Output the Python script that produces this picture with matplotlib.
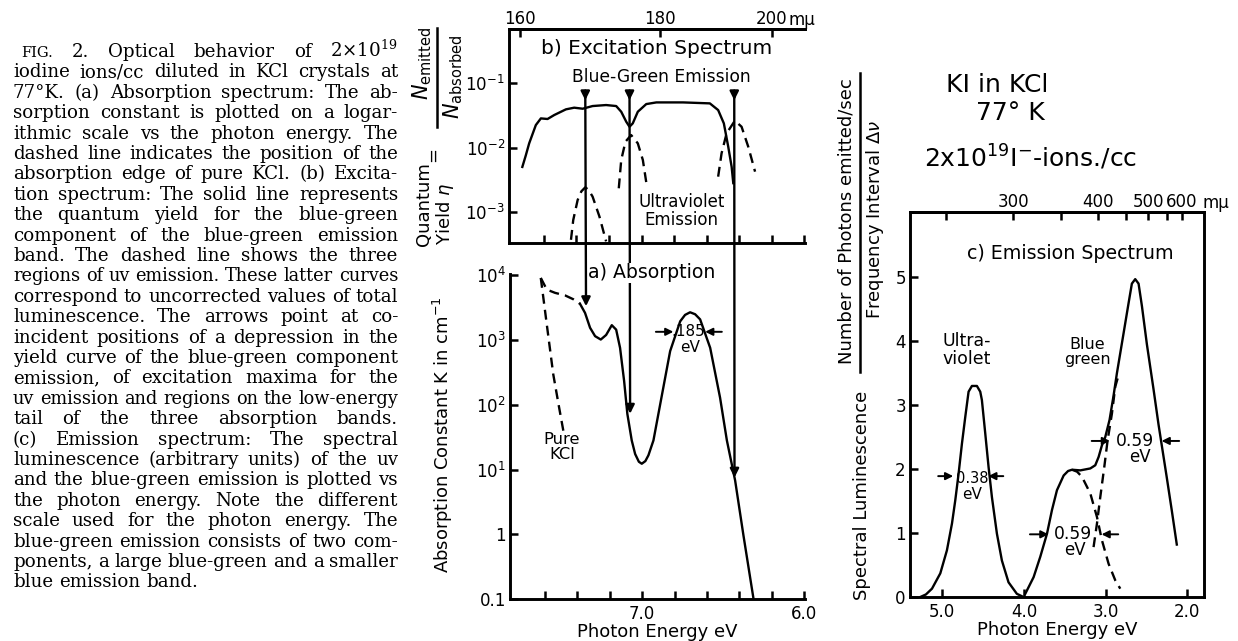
import numpy as np
import matplotlib.pyplot as plt
from matplotlib.patches import ConnectionPatch

plt.rcParams['font.family'] = 'DejaVu Sans'
plt.rcParams['mathtext.fontset'] = 'dejavusans'

W, H = 1238, 641  # taille de l'image en pixels


def fx(x):
    return x / W  # pixel -> fraction de figure (horizontal)


def fy(y):
    return 1 - y / H  # pixel (depuis le haut) -> fraction de figure


def ev2nm(x):
    x = np.asarray(x, dtype=float)
    with np.errstate(divide='ignore'):
        return 1239.8 / x  # eV <-> nm (m mu)


# ---------------- Données ----------------
# b) rendement quantique de la composante bleu-vert (trait plein)
E_bg = [7.733, 7.712, 7.691, 7.650, 7.619, 7.578, 7.537, 7.465, 7.414, 7.362, 7.301, 7.218, 7.156,
        7.125, 7.094, 7.074, 7.054, 7.023, 6.971, 6.909, 6.745, 6.580, 6.529, 6.494, 6.467, 6.446, 6.436]
eta_bg = [5.0e-3, 7.5e-3, 1.16e-2, 2.23e-2, 2.83e-2, 2.77e-2, 3.19e-2, 3.91e-2, 4.15e-2, 4.0e-2, 4.4e-2,
          4.56e-2, 4.4e-2, 3.59e-2, 2.51e-2, 2.1e-2, 2.37e-2, 3.59e-2, 4.72e-2, 5.01e-2, 5.01e-2, 4.84e-2,
          3.81e-2, 2.37e-2, 1.03e-2, 5.0e-3, 2.8e-3]

# b) émission UV (tirets), trois régions
E_uv1 = [7.434, 7.420, 7.393, 7.370, 7.346, 7.325, 7.301, 7.259, 7.218]
eta_uv1 = [3.7e-4, 7.5e-4, 1.53e-3, 2.09e-3, 2.41e-3, 2.19e-3, 1.73e-3, 8.5e-4, 3.5e-4]
E_uv2 = [7.140, 7.125, 7.099, 7.064, 7.023, 6.992, 6.967]
eta_uv2 = [2.33e-3, 6.4e-3, 1.23e-2, 1.56e-2, 1.16e-2, 6.4e-3, 2.47e-3]
E_uv3 = [6.529, 6.508, 6.477, 6.426, 6.385, 6.344, 6.302]
eta_uv3 = [3.53e-3, 8.13e-3, 1.66e-2, 2.61e-2, 2.1e-2, 1.03e-2, 4.22e-3]

# a) absorption (partie en tirets puis trait plein) et bord de KCl pur
E_abs_dash = [7.625, 7.588, 7.537, 7.475, 7.424, 7.383]
K_abs_dash = [9120, 6030, 5370, 4900, 4270, 3630]
E_abs = [7.383, 7.352, 7.321, 7.290, 7.255, 7.222, 7.187, 7.160, 7.136, 7.111, 7.091, 7.064, 7.043,
         7.020, 7.002, 6.980, 6.961, 6.930, 6.889, 6.827, 6.765, 6.735, 6.704, 6.673, 6.642, 6.580,
         6.519, 6.477, 6.426, 6.375, 6.313]
K_abs = [3630, 2630, 1550, 1150, 1020, 1200, 1700, 1450, 760, 234, 72.4, 28.2, 17.4,
         13.2, 12.3, 13.5, 16.6, 28.2, 100, 676, 1950, 2450, 2690, 2510, 2090, 760,
         129, 28.2, 6.76, 0.97, 0.102]
E_kcl = [7.625, 7.588, 7.548, 7.515, 7.486]
K_kcl = [9120, 1740, 295, 100, 39.8]

# flèches verticales (b) -> (a)
E_arrows = [7.346, 7.074, 6.430]
K_tips = [3340, 72.8, 7.5]

# c) spectre d'émission
E_uv = [5.269, 5.200, 5.126, 5.024, 4.943, 4.881, 4.841, 4.800, 4.759, 4.718, 4.678, 4.637,
        4.576, 4.535, 4.515, 4.474, 4.433, 4.392, 4.331, 4.270, 4.189, 4.087, 4.006]
L_uv = [0.0, 0.04, 0.13, 0.37, 0.73, 1.15, 1.51, 1.93, 2.40, 2.82, 3.21, 3.30,
        3.30, 3.21, 3.08, 2.56, 2.03, 1.56, 0.99, 0.57, 0.23, 0.05, 0.0]
E_bgc = [3.984, 3.882, 3.800, 3.718, 3.657, 3.596, 3.514, 3.460, 3.412, 3.310, 3.188, 3.127,
         3.086, 3.046, 3.005, 2.952, 2.903, 2.862, 2.781, 2.720, 2.679, 2.638, 2.597, 2.556,
         2.495, 2.414, 2.353, 2.253, 2.190, 2.129]
L_bgc = [0.05, 0.31, 0.63, 0.99, 1.36, 1.67, 1.90, 1.97, 1.99, 1.98, 2.01, 2.06,
         2.19, 2.37, 2.50, 2.77, 3.15, 3.50, 4.12, 4.59, 4.90, 4.97, 4.90, 4.55,
         3.95, 3.25, 2.70, 1.88, 1.35, 0.82]
E_blue_d = [3.412, 3.350, 3.290, 3.188, 3.106, 3.046, 2.964, 2.882, 2.821]
L_blue_d = [1.99, 1.96, 1.88, 1.62, 1.25, 0.89, 0.52, 0.26, 0.13]
E_green_d = [3.148, 3.106, 3.066, 3.017, 2.976, 2.923, 2.882, 2.842]
L_green_d = [0.78, 1.15, 1.56, 2.03, 2.45, 2.87, 3.29, 3.47]

# graduations
E_ticks = [7.6, 7.4, 7.2, 7.0, 6.8, 6.6, 6.4, 6.2, 6.0]
E_labels = ['', '', '', '7.0', '', '', '', '', '6.0']
K_ticks = [0.1, 1, 10, 100, 1000, 10000]
K_labels = ['0.1', '1', r'$10^1$', r'$10^2$', r'$10^3$', r'$10^4$']
eta_ticks = [1e-3, 1e-2, 1e-1]
eta_labels = [r'$10^{-3}$', r'$10^{-2}$', r'$10^{-1}$']
nm_ticks_b = [160, 180, 200]
Ec_ticks = [5.0, 4.0, 3.0, 2.0]
Ec_labels = ['5.0', '4.0', '3.0', '2.0']
L_ticks = [0, 1, 2, 3, 4, 5]
nm_ticks_c = [300, 400, 500, 600]
nm_minor_c = [250, 350, 450, 550]

caption = [
    "FIG. 2. Optical behavior of 2$\\times$10$^{19}$",
    "iodine ions/cc diluted in KCl crystals at",
    "77°K. (a) Absorption spectrum: The ab-",
    "sorption constant is plotted on a logar-",
    "ithmic scale vs the photon energy. The",
    "dashed line indicates the position of the",
    "absorption edge of pure KCl. (b) Excita-",
    "tion spectrum: The solid line represents",
    "the quantum yield for the blue-green",
    "component of the blue-green emission",
    "band. The dashed line shows the three",
    "regions of uv emission. These latter curves",
    "correspond to uncorrected values of total",
    "luminescence. The arrows point at co-",
    "incident positions of a depression in the",
    "yield curve of the blue-green component",
    "emission, of excitation maxima for the",
    "uv emission and regions on the low-energy",
    "tail of the three absorption bands.",
    "(c) Emission spectrum: The spectral",
    "luminescence (arbitrary units) of the uv",
    "and the blue-green emission is plotted vs",
    "the photon energy. Note the different",
    "scale used for the photon energy. The",
    "blue-green emission consists of two com-",
    "ponents, a large blue-green and a smaller",
    "blue emission band.",
]

# ---------------- Figure ----------------
fig = plt.figure(figsize=(W / 100, H / 100), dpi=100)
LW_SP = 2.1   # épaisseur des axes
LW = 1.7      # épaisseur des courbes
DASH = (0, (4.2, 2.6))
TK = dict(direction='in', length=6, width=1.8, labelsize=12, colors='k')


def box(l, t, r, b):
    return [fx(l), fy(b), fx(r - l), (b - t) / H]


ax_b = fig.add_axes(box(509, 29, 805, 243))
ax_a = fig.add_axes(box(510, 274, 805, 599))
ax_c = fig.add_axes(box(910, 212, 1204, 597))
for ax in (ax_a, ax_b, ax_c):
    for s in ax.spines.values():
        s.set_linewidth(LW_SP)
ax_a.spines['top'].set_visible(False)
ax_a.spines['right'].set_visible(False)
ax_b.spines['right'].set_visible(False)

# ---- b) spectre d'excitation ----
ax_b.set_yscale('log')
ax_b.set_xlim(7.815, 5.995)
ax_b.set_ylim(3.3e-4, 0.69)
ax_b.plot(E_bg, eta_bg, color='k', lw=LW)
for e, v in ((E_uv1, eta_uv1), (E_uv2, eta_uv2), (E_uv3, eta_uv3)):
    ax_b.plot(e, v, color='k', lw=LW, linestyle=DASH)
ax_b.set_xticks(E_ticks)
ax_b.set_xticklabels([])
ax_b.set_yticks(eta_ticks)
ax_b.set_yticklabels(eta_labels)
ax_b.yaxis.set_minor_locator(plt.NullLocator())
ax_b.xaxis.set_minor_locator(plt.NullLocator())
ax_b.tick_params(**TK)
ax_b.tick_params(axis='y', pad=3)
sec_b = ax_b.secondary_xaxis('top', functions=(ev2nm, ev2nm))
sec_b.set_xticks(nm_ticks_b)
sec_b.set_xticklabels([str(v) for v in nm_ticks_b])
sec_b.tick_params(**TK)
sec_b.tick_params(pad=1)
sec_b.spines['top'].set_linewidth(LW_SP)
fig.text(fx(788), fy(20), 'm\u03bc', fontsize=12, ha='left', va='center')

ax_b.text(0.5, 0.91, 'b) Excitation Spectrum', transform=ax_b.transAxes, ha='center', va='center',
          fontsize=14.5)
ax_b.text(0.514, 0.776, 'Blue-Green Emission', transform=ax_b.transAxes, ha='center', va='center',
          fontsize=12.3)
ax_b.text(0.584, 0.15, 'Ultraviolet\nEmission', transform=ax_b.transAxes, ha='center', va='center',
          fontsize=12, linespacing=1.0)

# ---- a) absorption ----
ax_a.set_yscale('log')
ax_a.set_xlim(7.815, 5.995)
ax_a.set_ylim(0.1, 1.05e4)
ax_a.plot(E_abs_dash, K_abs_dash, color='k', lw=LW, linestyle=DASH)
ax_a.plot(E_abs, K_abs, color='k', lw=LW)
ax_a.plot(E_kcl, K_kcl, color='k', lw=LW, linestyle=DASH)
ax_a.set_xticks(E_ticks)
ax_a.set_xticklabels(E_labels)
ax_a.set_yticks(K_ticks)
ax_a.set_yticklabels(K_labels)
ax_a.yaxis.set_minor_locator(plt.NullLocator())
ax_a.xaxis.set_minor_locator(plt.NullLocator())
ax_a.tick_params(**TK)
ax_a.tick_params(axis='x', pad=4)
ax_a.tick_params(axis='y', pad=3)
ax_a.text(7.494, 22.6, 'Pure\nKCl', ha='center', va='center', fontsize=11.8, linespacing=1.0)
ax_a.text(6.716, 1343, '.185', ha='center', va='center', fontsize=11)
ax_a.text(6.704, 760, 'eV', ha='center', va='center', fontsize=11)
arr = dict(arrowstyle='-|>', color='k', lw=1.4, mutation_scale=11, shrinkA=0, shrinkB=0)
ax_a.annotate('', xy=(6.807, 1343), xytext=(6.915, 1343), arrowprops=arr)
ax_a.annotate('', xy=(6.611, 1343), xytext=(6.508, 1343), arrowprops=arr)
fig.text(fx(443), fy(435), 'Absorption Constant K in cm$^{-1}$', rotation=90, ha='center', va='center',
         fontsize=13)
ax_a.set_xlabel('Photon Energy eV', fontsize=13, labelpad=0)

fig.text(fx(652), fy(273), 'a) Absorption', ha='center', va='center', fontsize=13.6, zorder=5,
         bbox=dict(facecolor='white', edgecolor='none', pad=0.5))

# flèches communes aux panneaux b et a
for e, k in zip(E_arrows, K_tips):
    ax_b.annotate('', xy=(e, 0.054), xytext=(e, 0.076),
                  arrowprops=dict(arrowstyle='-|>', color='k', lw=LW, mutation_scale=13,
                                  shrinkA=0, shrinkB=0))
    con = ConnectionPatch(xyA=(e, 0.076), coordsA=ax_b.transData, xyB=(e, k), coordsB=ax_a.transData,
                          arrowstyle='-|>', color='k', lw=LW, mutation_scale=13, shrinkA=0, shrinkB=0)
    fig.add_artist(con)

# y label de b : rendement quantique
fig.text(fx(424), fy(204), 'Quantum', rotation=90, ha='center', va='center', fontsize=13)
fig.text(fx(445), fy(214), 'Yield $\\eta$', rotation=90, ha='center', va='center', fontsize=13)
fig.text(fx(433), fy(155), '=', rotation=90, ha='center', va='center', fontsize=13)
fig.text(fx(422), fy(63), '$N_{\\mathrm{emitted}}$', rotation=90, ha='center', va='center', fontsize=15)
fig.text(fx(453), fy(77), '$N_{\\mathrm{absorbed}}$', rotation=90, ha='center', va='center', fontsize=15)
fig.add_artist(plt.Line2D([fx(437), fx(437)], [fy(127), fy(28)], color='k', lw=1.8))

# ---- c) spectre d'émission ----
ax_c.set_xlim(5.395, 1.796)
ax_c.set_ylim(0, 6.02)
ax_c.plot(E_uv, L_uv, color='k', lw=LW)
ax_c.plot(E_bgc, L_bgc, color='k', lw=LW)
ax_c.plot(E_blue_d, L_blue_d, color='k', lw=LW, linestyle=DASH)
ax_c.plot(E_green_d, L_green_d, color='k', lw=LW, linestyle=DASH)
ax_c.set_xticks(Ec_ticks)
ax_c.set_xticklabels(Ec_labels)
ax_c.set_yticks(L_ticks)
ax_c.tick_params(**TK)
ax_c.tick_params(axis='x', pad=4)
ax_c.tick_params(axis='y', pad=3)
sec_c = ax_c.secondary_xaxis('top', functions=(ev2nm, ev2nm))
sec_c.set_xticks(nm_ticks_c)
sec_c.set_xticklabels([str(v) for v in nm_ticks_c])
sec_c.set_xticks(nm_minor_c, minor=True)
sec_c.tick_params(which='both', **TK)
sec_c.tick_params(pad=1)
sec_c.spines['top'].set_linewidth(LW_SP)
fig.text(fx(1203), fy(203), 'm\u03bc', fontsize=12, ha='left', va='center')
ax_c.set_xlabel('Photon Energy eV', fontsize=13, labelpad=0)

ax_c.text(0.544, 0.893, 'c) Emission Spectrum', transform=ax_c.transAxes, ha='center', va='center',
          fontsize=13.7)
ax_c.text(4.70, 3.86, 'Ultra-\nviolet', ha='center', va='center', fontsize=12.5, linespacing=1.0)
ax_c.text(3.22, 3.83, 'Blue\ngreen', ha='center', va='center', fontsize=11.5, linespacing=0.95)

# largeurs à mi-hauteur
ax_c.annotate('', xy=(4.866, 1.89), xytext=(5.05, 1.89), arrowprops=arr)
ax_c.annotate('', xy=(4.437, 1.89), xytext=(4.253, 1.89), arrowprops=arr)
ax_c.text(4.637, 1.85, '0.38', ha='center', va='center', fontsize=10.5)
ax_c.text(4.637, 1.61, 'eV', ha='center', va='center', fontsize=11)
ax_c.annotate('', xy=(2.947, 2.44), xytext=(3.171, 2.44), arrowprops=arr)
ax_c.annotate('', xy=(2.315, 2.44), xytext=(2.10, 2.44), arrowprops=arr)
ax_c.text(2.641, 2.44, '0.59', ha='center', va='center', fontsize=12.3)
ax_c.text(2.58, 2.19, 'eV', ha='center', va='center', fontsize=12)
ax_c.annotate('', xy=(3.70, 0.98), xytext=(3.927, 0.98), arrowprops=arr)
ax_c.annotate('', xy=(3.05, 0.98), xytext=(2.846, 0.98), arrowprops=arr)
ax_c.text(3.397, 0.98, '0.59', ha='center', va='center', fontsize=12.3)
ax_c.text(3.376, 0.73, 'eV', ha='center', va='center', fontsize=12)

# y label de c
fig.text(fx(862), fy(495), 'Spectral Luminescence', rotation=90, ha='center', va='center', fontsize=13)
fig.text(fx(847), fy(221), 'Number of Photons emitted/sec', rotation=90, ha='center', va='center',
         fontsize=13)
fig.text(fx(875), fy(220), 'Frequency Interval $\\Delta\\nu$', rotation=90, ha='center', va='center',
         fontsize=13)
fig.add_artist(plt.Line2D([fx(860), fx(860)], [fy(372), fy(73)], color='k', lw=1.8))

# titre du panneau c
fig.text(fx(997), fy(85), 'KI in KCl', ha='center', va='center', fontsize=18)
fig.text(fx(1010), fy(113), '77° K', ha='center', va='center', fontsize=18)
fig.text(fx(1031), fy(157), '2x10$^{19}$I$^{-}$-ions./cc', ha='center', va='center', fontsize=18)

# ---------------- Légende (texte justifié) ----------------
renderer = fig.canvas.get_renderer()
x_left, x_right = 13, 398
y_first, dy = 52, 20.4
cap_font = dict(family='DejaVu Serif', math_fontfamily='dejavuserif', color='k')

# taille de police réglée sur la largeur médiane des lignes
probe = [fig.text(0, 0, line, fontsize=10, **cap_font) for line in caption[:-1]]
widths0 = sorted(t.get_window_extent(renderer).width for t in probe)
for t in probe:
    t.remove()
w_med = widths0[len(widths0) // 2]
cap_size = 10 * (x_right - x_left) * 0.95 / w_med

for i, line in enumerate(caption):
    words = line.split(' ')
    yb = fy(y_first + i * dy + 5)
    x0 = x_left + (8 if i == 0 else 0)
    size = cap_size
    for _ in range(6):
        texts = []
        for w in words:
            s = size * 0.8 if w == 'FIG.' else size
            texts.append(fig.text(0, yb, w, fontsize=s, va='baseline', ha='left', **cap_font))
        widths = [t.get_window_extent(renderer).width for t in texts]
        sp = size * 100 / 72 * 0.3
        if sum(widths) + sp * (len(words) - 1) <= (x_right - x0) or i == len(caption) - 1:
            break
        for t in texts:
            t.remove()
        size *= 0.97  # ligne trop longue : on resserre
    if i == len(caption) - 1 or len(words) == 1:
        gap = size * 100 / 72 * 0.32
    else:
        gap = (x_right - x0 - sum(widths)) / (len(words) - 1)
    x = x0
    for t, w in zip(texts, widths):
        t.set_x(fx(x))
        x += w + gap

fig.savefig('out.png', dpi=100)
